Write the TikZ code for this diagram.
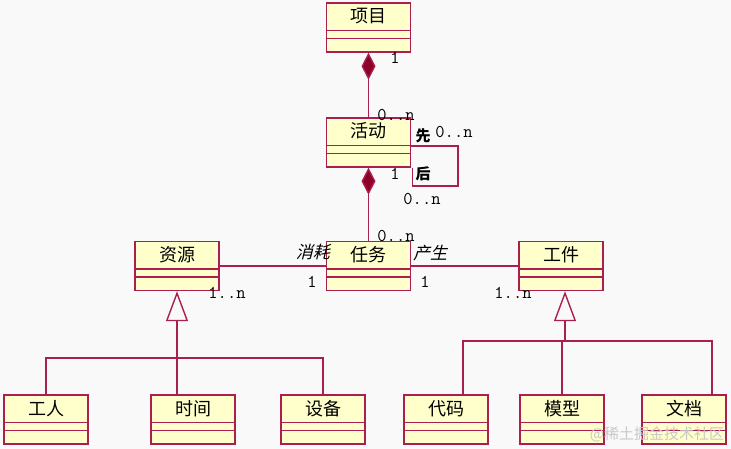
\documentclass[tikz,border=0pt]{standalone}
\usepackage{fontspec}
\setmainfont{Noto Sans CJK SC}
\newfontfamily\cjkit[FakeSlant=0.25]{Noto Sans CJK SC}
\usetikzlibrary{arrows.meta, positioning, calc, backgrounds}
\definecolor{umlline}{RGB}{170,30,80}
\definecolor{umlfill}{RGB}{255,255,204}
\definecolor{umldark}{RGB}{140,0,40}
\definecolor{pagebg}{RGB}{249,249,249}
\definecolor{wmgray}{RGB}{200,200,200}

\begin{document}
\begin{tikzpicture}[
    x=1pt, y=-1pt,
    cls/.style={draw=umlline, fill=umlfill, line width=1.4pt, inner sep=0pt,
        minimum width=84pt, text height=20pt, text depth=29pt,
        font=\fontsize{18}{18}\selectfont},
    assoc/.style={draw=umlline, line width=1.4pt},
    comp/.style={assoc, {Diamond[length=27pt, width=14pt, fill=umldark]}-},
    gen/.style={assoc, -{Triangle[open, length=30pt, width=22pt]}},
    mult/.style={font=\ttfamily\fontsize{18}{18}\selectfont, inner sep=0pt},
    role/.style={font=\cjkit\fontsize{17}{17}\selectfont, inner sep=0pt},
    rolebold/.style={font=\bfseries\fontsize{15}{15}\selectfont, inner sep=0pt}
]
\fill[pagebg] (0,0) rectangle (731,449);
\useasboundingbox (0,0) rectangle (731,449);

% classes
\node[cls] (xm) at (368.5,27.5) {项目};
\node[cls] (hd) at (368.5,142.5) {活动};
\node[cls] (rw) at (368.5,266) {任务};
\node[cls] (zy) at (177,266) {资源};
\node[cls] (gj) at (561,266) {工件};
\node[cls] (gr) at (46,419.5) {工人};
\node[cls] (sj) at (193,419.5) {时间};
\node[cls] (sb) at (323,419.5) {设备};
\node[cls] (dm) at (446,419.5) {代码};
\node[cls] (mx) at (562,419.5) {模型};
\node[cls] (wd) at (684,419.5) {文档};

\foreach \n in {xm,hd,rw,zy,gj,gr,sj,sb,dm,mx,wd} {
    \draw[assoc] ([yshift=-28pt]\n.north west) -- ([yshift=-28pt]\n.north east);
    \draw[assoc] ([yshift=-36pt]\n.north west) -- ([yshift=-36pt]\n.north east);
}

% composition
\draw[comp] (xm.south) -- (hd.north);
\draw[comp] (hd.south) -- (rw.north);

% self association
\coordinate (loop) at (458,186);
\draw[assoc] ([yshift=-3.5pt]hd.east) -| (loop) -| ([xshift=1pt]hd.south east);

% associations
\draw[assoc] (zy.east) -- (rw.west);
\draw[assoc] (rw.east) -- (gj.west);

% generalization
\coordinate (lbus) at (177,358);
\coordinate (rbus) at (565,341);
\draw[gen] (lbus) -- (zy.south);
\draw[assoc] (gr.north) |- (lbus) -| (sb.north);
\draw[assoc] ([xshift=-16pt]sj.north) -- (lbus);
\draw[gen] (rbus) -- ([xshift=4pt]gj.south);
\draw[assoc] ([xshift=17pt]dm.north) |- (rbus) -| ([xshift=28pt]wd.north);
\draw[assoc] (mx.north) -- (mx.north |- rbus);

% multiplicities and roles
\node[mult] (m1) at (395,58) {1};
\node[mult] (m2) at (396,115) {0..n};
\node[rolebold] (r1) at (423,136) {先};
\node[mult] (m3) at (454,132) {0..n};
\node[mult] (m4) at (395,174) {1};
\node[rolebold] (r2) at (423,174) {后};
\node[mult] (m5) at (422,199) {0..n};
\node[mult] (m6) at (396,236) {0..n};
\node[role, anchor=east] (r3) at (330,252) {消耗};
\node[role] (r4) at (430,253) {产生};
\node[mult] (m7) at (312,282) {1};
\node[mult] (m8) at (425,282) {1};
\node[mult] (m9) at (227,293) {1..n};
\node[mult] (m10) at (513,293) {1..n};

\node[text=wmgray, font=\fontsize{15}{15}\selectfont, inner sep=0pt] (wm) at (657,434) {@稀土掘金技术社区};
\end{tikzpicture}
\end{document}
